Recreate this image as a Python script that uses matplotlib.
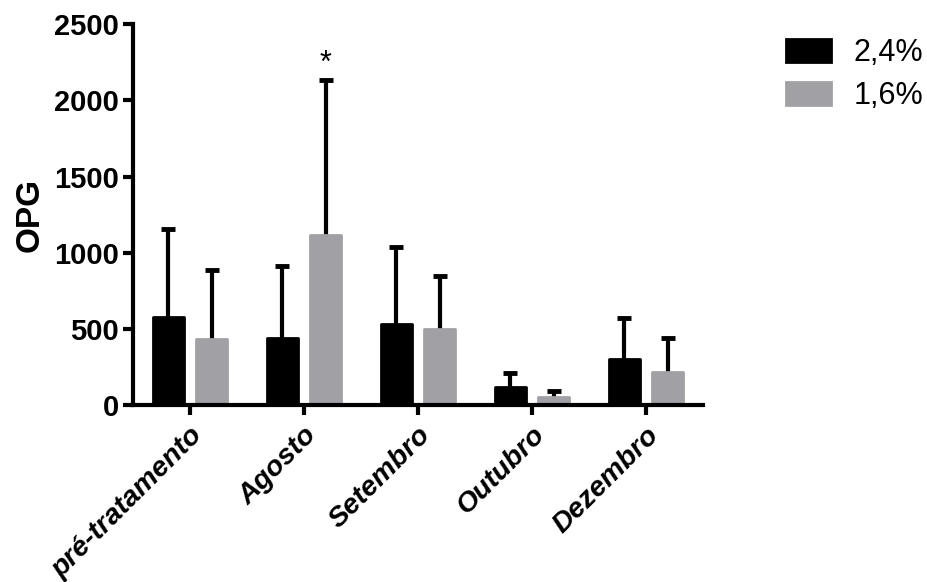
import numpy as np
import matplotlib
matplotlib.use('Agg')
import matplotlib.pyplot as plt

plt.rcParams['font.family'] = ['Liberation Sans', 'DejaVu Sans']

categories = ['pré-tratamento', 'Agosto', 'Setembro', 'Outubro', 'Dezembro']
series_names = ['2,4%', '1,6%']
mean_24 = [577, 443, 533, 122, 302]
err_top_24 = [1156, 915, 1036, 210, 574]
mean_16 = [435, 1119, 498, 52, 216]
err_top_16 = [885, 2133, 850, 94, 443]
colors = ['#000000', '#a1a1a5']

fig = plt.figure(figsize=(9.28, 5.82), dpi=100)
ax = fig.add_axes([0.1433, 0.3036, 0.6142, 0.6552])

x = np.arange(len(categories))
width = 0.27
offset = 0.19

means = [mean_24, mean_16]
tops = [err_top_24, err_top_16]
for i, (m, t) in enumerate(zip(means, tops)):
    pos = x + (-offset if i == 0 else offset)
    ax.bar(pos, m, width, color=colors[i], edgecolor=colors[i], linewidth=2,
           joinstyle='round', label=series_names[i], zorder=2)
    # upper error bars only
    ax.vlines(pos, m, t, color='black', linewidth=3, zorder=1)
    ax.plot(pos, t, linestyle='none', marker='_', markersize=10, mew=3.5,
            color='black', zorder=1)

# significance mark
ax.text(x[1] + offset, 2240, '*', ha='center', va='center', fontsize=22)

ax.set_xlim(-0.5, 4.5)
ax.set_ylim(0, 2500)
ax.set_yticks([0, 500, 1000, 1500, 2000, 2500])
ax.set_xticks(x)
ax.set_xticklabels(categories, rotation=45, ha='right', va='top', rotation_mode='anchor',
                   fontsize=20.5, fontweight='bold', fontstyle='italic')
for lab in ax.get_yticklabels():
    lab.set_fontsize(21)
    lab.set_fontweight('bold')

ax.set_ylabel('OPG', fontsize=24, fontweight='bold', labelpad=6)

for s in ['top', 'right']:
    ax.spines[s].set_visible(False)
for s in ['left', 'bottom']:
    ax.spines[s].set_linewidth(3)
ax.tick_params(axis='both', width=3, length=7)
ax.tick_params(axis='y', pad=3)
ax.tick_params(axis='x', pad=5)

ax.legend(loc='upper left', bbox_to_anchor=(1.125, 0.995), frameon=False, fontsize=22,
          handlelength=1.45, handleheight=0.8, labelspacing=0.42, handletextpad=0.75,
          borderaxespad=0)

fig.savefig('out.png', dpi=100)
